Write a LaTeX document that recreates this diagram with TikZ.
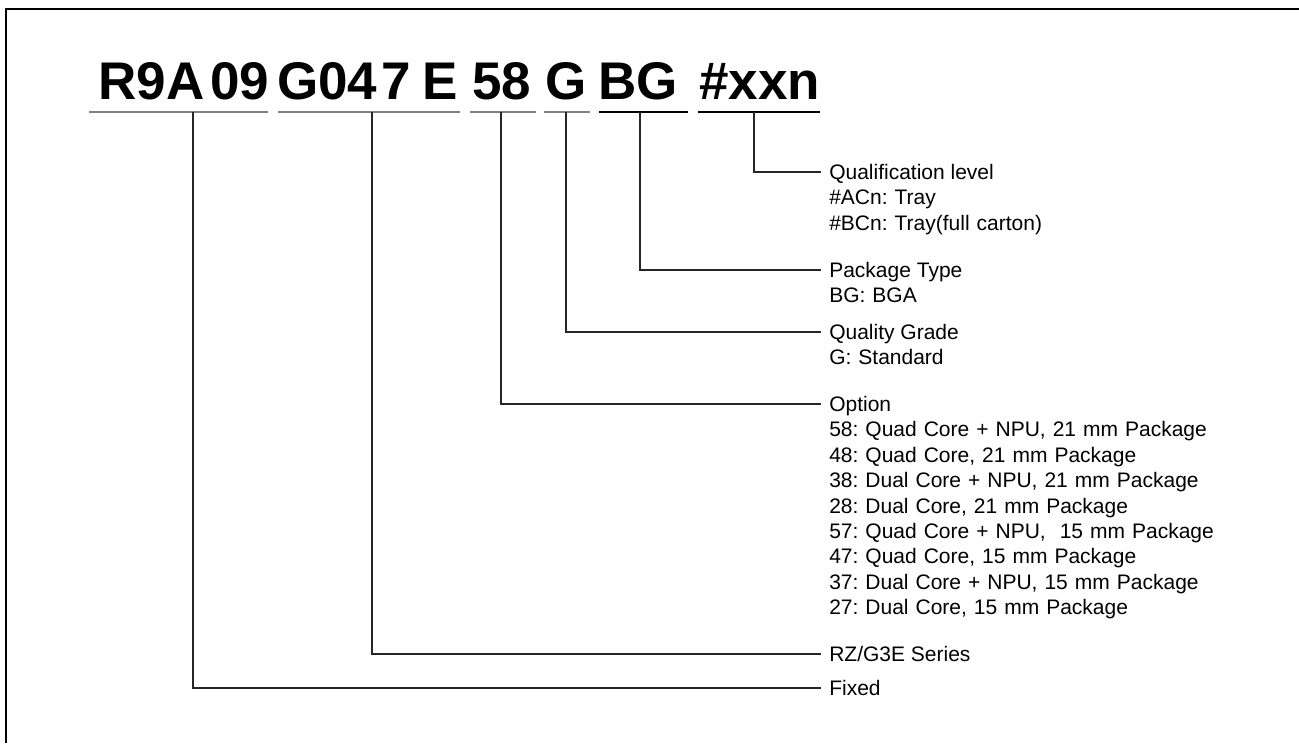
\documentclass[tikz,border=0pt]{standalone}
\usepackage{fontspec}
\setmainfont{Liberation Sans}
\frenchspacing
\tikzset{
  code/.style={anchor=base west, inner sep=0pt, font=\fontsize{39.75pt}{40pt}\selectfont\bfseries},
  hdr/.style={anchor=west, inner xsep=6pt, inner ysep=0pt, text height=11.3pt, text depth=0pt, font=\fontsize{15.75pt}{19.05pt}\selectfont},
  dtl/.style={anchor=base west, inner xsep=6pt, inner ysep=0pt, text width=330pt, align=left, font=\fontsize{15.75pt}{19.05pt}\selectfont},
  underbar/.style={line width=1.5pt, black!50},
  underbar dark/.style={line width=1pt, black},
  link/.style={line width=1pt, black!85},
}

\begin{document}
\begin{tikzpicture}[x=0.75pt,y=-0.75pt]
\useasboundingbox (0,0) rectangle (1299,743);
\draw[line width=2pt] (6,743) -- (6,9) -- (1299,9);

\node[code] (pfx) at (98,99) {R9A};
\node[code] (fam) at (210,99) {09};
\node[code] (ser) at (277,99) {G04};
\node[code] (sub) at (381,99) {7};
\node[code] (rev) at (422,99) {E};
\node[code] (optc) at (472,99) {58};
\node[code] (grdc) at (545,99) {G};
\node[code] (pkgc) at (598,99) {BG};
\node[code] (qlc) at (699,99) {\#xxn};

\draw[underbar] (89,112) -- (268,112);
\draw[underbar] (278,112) -- (460,112);
\draw[underbar] (470,112) -- (536,112);
\draw[underbar] (544,112) -- (590,112);
\draw[underbar dark] (599,112) -- (688,112);
\draw[underbar dark] (698,112) -- (820,112);
\coordinate (u1) at (193,112);
\coordinate (u2) at (372,112);
\coordinate (u3) at (501,112);
\coordinate (u4) at (566,112);
\coordinate (u5) at (640,112);
\coordinate (u6) at (754,112);

\node[hdr] (qual) at (821,172) {Qualification level};
\node[dtl] (qualtxt) at ([yshift=-19.05pt]qual.base west) {\#ACn: Tray\\\#BCn: Tray(full carton)};
\node[hdr] (pkg) at (821,270) {Package Type};
\node[dtl] (pkgtxt) at ([yshift=-19.05pt]pkg.base west) {BG: BGA};
\node[hdr] (grade) at (821,332) {Quality Grade};
\node[dtl] (gradetxt) at ([yshift=-19.05pt]grade.base west) {G: Standard};
\node[hdr] (opt) at (821,404) {Option};
\node[dtl] (opttxt) at ([yshift=-19.05pt]opt.base west) {58: Quad Core + NPU, 21 mm Package\\48: Quad Core, 21 mm Package\\38: Dual Core + NPU, 21 mm Package\\28: Dual Core, 21 mm Package\\57: Quad Core + NPU,\ \ 15 mm Package\\47: Quad Core, 15 mm Package\\37: Dual Core + NPU, 15 mm Package\\27: Dual Core, 15 mm Package};
\node[hdr] (series) at (821,654) {RZ/G3E Series};
\node[hdr] (fixed) at (821,688) {Fixed};

\draw[link] (u6) |- (qual.west);
\draw[link] (u5) |- (pkg.west);
\draw[link] (u4) |- (grade.west);
\draw[link] (u3) |- (opt.west);
\draw[link] (u2) |- (series.west);
\draw[link] (u1) |- (fixed.west);
\end{tikzpicture}
\end{document}
